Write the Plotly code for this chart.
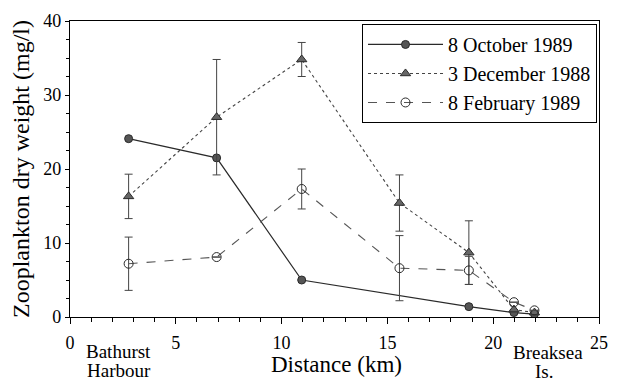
import plotly.graph_objects as go

# Distance along the transect (km)
distance = [2.77, 6.93, 10.95, 15.57, 18.85, 20.98, 21.95]
dist_oct = [2.77, 6.93, 10.95, 18.85, 20.98, 21.95]

# Zooplankton dry weight (mg/l)
oct_1989 = [24.1, 21.5, 5.0, 1.4, 0.6, 0.4]
dec_1988 = [16.3, 27.0, 34.8, 15.4, 8.7, 1.0, 0.6]
dec_err = [3.0, 7.8, 2.3, 3.8, 4.3, 0.0, 0.0]
feb_1989 = [7.2, 8.1, 17.3, 6.6, 6.3, 2.0, 0.9]
feb_err = [3.6, 0.0, 2.7, 4.4, 1.9, 0.0, 0.0]

serif = "'Liberation Serif', 'Times New Roman', Times, serif"
ink = "#2a2a2a"

fig = go.Figure()

fig.add_trace(go.Scatter(
    x=dist_oct, y=oct_1989, name="8 October 1989", mode="lines+markers",
    line=dict(color=ink, width=1.2, dash="solid"),
    marker=dict(symbol="circle", size=8, color="#555555", line=dict(color=ink, width=1)),
))
fig.add_trace(go.Scatter(
    x=distance, y=dec_1988, name="3 December 1988", mode="lines+markers",
    line=dict(color="#444444", width=1.1, dash="dot"),
    marker=dict(symbol="triangle-up", size=9, color="#666666", line=dict(color=ink, width=1)),
    error_y=dict(type="data", array=dec_err, color="#444444", thickness=1, width=4),
))
fig.add_trace(go.Scatter(
    x=distance, y=feb_1989, name="8 February 1989", mode="lines+markers",
    line=dict(color="#555555", width=1.1, dash="dash"),
    marker=dict(symbol="circle-open", size=9, color=ink, line=dict(color=ink, width=1)),
    error_y=dict(type="data", array=feb_err, color="#444444", thickness=1, width=4),
))

fig.update_layout(
    width=619, height=381,
    margin=dict(l=70, r=11, t=12, b=64),
    paper_bgcolor="white", plot_bgcolor="white",
    font=dict(family=serif, size=18, color="black"),
    showlegend=True,
    legend=dict(
        x=0.552, y=0.99, xanchor="left", yanchor="top",
        bordercolor="black", borderwidth=1, bgcolor="white",
        font=dict(family=serif, size=20),
        itemwidth=75, tracegroupgap=0,
    ),
)

fig.update_xaxes(
    range=[0, 25], tick0=0, dtick=5,
    ticks="outside", ticklen=6, tickwidth=1, tickcolor="black",
    minor=dict(dtick=1, ticks="outside", ticklen=4, tickcolor="black"),
    showline=True, linecolor="black", linewidth=1.2, mirror=True,
    showgrid=False, zeroline=False,
    ticklabelstandoff=3,
    tickfont=dict(family=serif, size=18),
)
fig.update_yaxes(
    range=[0, 40], tick0=0, dtick=10,
    ticks="outside", ticklen=4, tickwidth=1, tickcolor="black",
    minor=dict(dtick=2.5, ticks="outside", ticklen=3, tickcolor="black"),
    showline=True, linecolor="black", linewidth=1.2, mirror=True,
    showgrid=False, zeroline=False,
    ticklabelstandoff=0,
    tickfont=dict(family=serif, size=18),
    title=dict(text="Zooplankton dry weight (mg/l)", font=dict(family=serif, size=24), standoff=6),
)

# Axis title and place names under the distance axis
fig.add_annotation(x=0.504, y=0, xref="paper", yref="paper", yanchor="middle", yshift=-47,
                   text="Distance (km)", showarrow=False, font=dict(family=serif, size=23))
place_labels = [(2.3, "Bathurst", -34), (2.3, "Harbour", -53),
                (22.6, "Breaksea", -35), (22.4, "Is.", -54)]
for px, txt, shift in place_labels:
    fig.add_annotation(x=px, y=0, xref="x", yref="paper", yanchor="middle", yshift=shift,
                       text=txt, showarrow=False, font=dict(family=serif, size=19))

fig.write_html("out.html")
